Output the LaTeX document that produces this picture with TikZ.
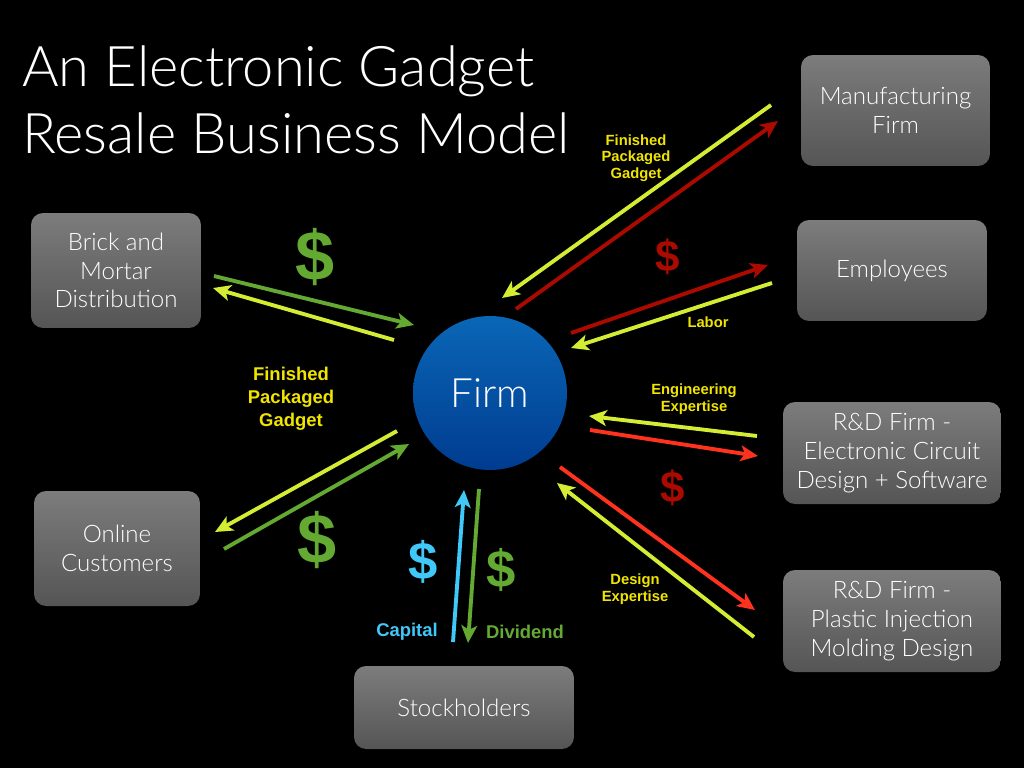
\documentclass[tikz,border=0pt]{standalone}
\usepackage{fontspec}
\setmainfont{Lato}[UprightFont={* Light}]
\newfontfamily\tagfont{Liberation Sans}
\usetikzlibrary{arrows.meta}

\definecolor{lime}{HTML}{D4EC32}
\definecolor{tagyellow}{HTML}{F0E400}
\definecolor{cashgreen}{HTML}{64AA32}
\definecolor{darkred}{HTML}{AA0A00}
\definecolor{brightred}{HTML}{FF3220}
\definecolor{skyblue}{HTML}{40C8F8}
\definecolor{boxtop}{HTML}{7C7C7C}
\definecolor{boxbot}{HTML}{555555}
\definecolor{firmtop}{HTML}{0A66B6}
\definecolor{firmbot}{HTML}{003C90}

\tikzset{
	box/.style={rounded corners=0.24cm, top color=boxtop, bottom color=boxbot, draw=none, text=white, align=center, inner sep=0pt, font=\fontsize{13.7}{16.3}\selectfont},
	flow/.style={line width=2.2pt, -{Stealth[length=10pt, width=9pt, inset=2.5pt]}},
	tag/.style={text=tagyellow, align=center, font=\tagfont\bfseries\fontsize{8.4}{9.5}\selectfont},
	bigtag/.style={align=center, font=\tagfont\bfseries\fontsize{10.5}{13.2}\selectfont},
	cash/.style={font=\tagfont\bfseries\fontsize{#1}{#1}\selectfont},
	cash/.default=40
}

\begin{document}
\begin{tikzpicture}[x=0.02cm, y=-0.02cm]
\fill [black] (0,0) rectangle (1024,768);
\useasboundingbox (0,0) rectangle (1024,768);

\node (title) at (22,100) [anchor=west, text=white, align=left, inner sep=0pt, font=\fontsize{31.9}{38.5}\selectfont] {An Electronic Gadget\\Resale Business Model};

\node (firm) at (490,393) [circle, minimum size=3.08cm, top color=firmtop, bottom color=firmbot, text=white, font=\fontsize{23}{27}\selectfont] {Firm};

\node (mfg) at (895.5,110.5) [box, minimum width=3.78cm, minimum height=2.22cm] {Manufacturing\\Firm};
\node (staff) at (892,270.5) [box, minimum width=3.8cm, minimum height=2.02cm] {Employees};
\node (circuit) at (892,453) [box, minimum width=4.36cm, minimum height=2.04cm] {R\&D Firm -\\Electronic Circuit\\Design + Software};
\node (plastic) at (892,621) [box, minimum width=4.36cm, minimum height=2.04cm] {R\&D Firm -\\Plastic Injection\\Molding Design};
\node (stock) at (464,707.5) [box, minimum width=4.4cm, minimum height=1.66cm] {Stockholders};
\node (online) at (117,548.5) [box, minimum width=3.32cm, minimum height=2.3cm] {Online\\Customers};
\node (brick) at (116,270.5) [box, minimum width=3.4cm, minimum height=2.3cm] {Brick and\\Mortar\\Distribution};

% arrow ends
\coordinate (m1) at (771,105);  \coordinate (m2) at (502,298);
\coordinate (m3) at (516,309);  \coordinate (m4) at (778,121);
\coordinate (e1) at (571,333);  \coordinate (e2) at (768,265);
\coordinate (e3) at (772,283);  \coordinate (e4) at (571,348);
\coordinate (c1) at (757,436);  \coordinate (c2) at (589,416);
\coordinate (c3) at (590,430);  \coordinate (c4) at (758,456);
\coordinate (p1) at (560,467);  \coordinate (p2) at (755,610);
\coordinate (p3) at (754,637);  \coordinate (p4) at (557,483);
\coordinate (b1) at (214,276);  \coordinate (b2) at (414,325);
\coordinate (b3) at (394,340);  \coordinate (b4) at (213,288);
\coordinate (o1) at (397,431);  \coordinate (o2) at (215,532);
\coordinate (o3) at (224,549);  \coordinate (o4) at (409,444);
\coordinate (s1) at (453,642);  \coordinate (s2) at (464,490);
\coordinate (s3) at (479,489);  \coordinate (s4) at (468,643);

\draw [flow, lime] (m1) -- (m2);
\draw [flow, darkred] (m3) -- (m4);
\draw [flow, darkred] (e1) -- (e2);
\draw [flow, lime] (e3) -- (e4);
\draw [flow, lime] (c1) -- (c2);
\draw [flow, brightred] (c3) -- (c4);
\draw [flow, brightred] (p1) -- (p2);
\draw [flow, lime] (p3) -- (p4);
\draw [flow, cashgreen] (b1) -- (b2);
\draw [flow, lime] (b3) -- (b4);
\draw [flow, lime] (o1) -- (o2);
\draw [flow, cashgreen] (o3) -- (o4);
\draw [flow, skyblue] (s1) -- (s2);
\draw [flow, cashgreen] (s3) -- (s4);

\node (mfgtag) at (636,158) [tag] {Finished\\Packaged\\Gadget};
\node (labortag) at (708,322) [tag] {Labor};
\node (engtag) at (694,399) [tag] {Engineering\\Expertise};
\node (designtag) at (635,589) [tag] {Design\\Expertise};
\node (goodstag) at (291,399) [bigtag, text=tagyellow] {Finished\\Packaged\\Gadget};
\node (captag) at (407,632) [bigtag, text=skyblue] {Capital};
\node (divtag) at (525,632) [bigtag, text=cashgreen] {Dividend};

\node (brickcash) at (315,257) [cash, text=cashgreen] {\$};
\node (onlinecash) at (317,540) [cash, text=cashgreen] {\$};
\node (mfgcash) at (668,257) [cash=25, text=darkred] {\$};
\node (rdcash) at (673,488) [cash=25, text=darkred] {\$};
\node (capcash) at (423,562) [cash=30, text=skyblue] {\$};
\node (divcash) at (501,570) [cash=30, text=cashgreen] {\$};
\end{tikzpicture}
\end{document}
